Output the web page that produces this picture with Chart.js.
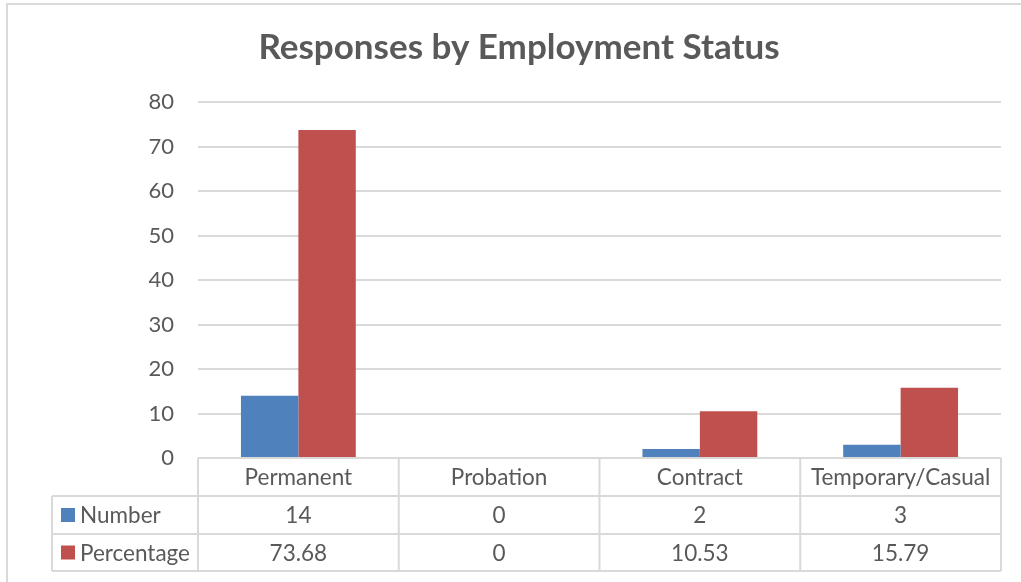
<!DOCTYPE html>
<html lang="en">
<head>
  <meta charset="UTF-8" />
  <title>Responses by Employment Status</title>
  <script src="https://cdn.jsdelivr.net/npm/chart.js"></script>
  <style>
    body { margin: 0; background: #fff; }
    canvas { display: block; }
  </style>
</head>
<body>
  <canvas id="statusChart" width="1021" height="582"></canvas>

  <script>
    const categories = ['Permanent', 'Probation', 'Contract', 'Temporary/Casual'];
    const numberValues = [14, 0, 2, 3];
    const percentValues = [73.68, 0, 10.53, 15.79];
    const seriesNames = ['Number', 'Percentage'];
    const seriesColors = ['#4F81BD', '#C0504D'];

    const textColor = '#595959';
    const lineColor = '#d9d9d9';
    const fontFamily = 'Lato, "Noto Sans", sans-serif';

    // white background, outer frame and title
    const frame = {
      id: 'frame',
      beforeDraw(chart) {
        const ctx = chart.ctx;
        ctx.save();
        ctx.fillStyle = '#fff';
        ctx.fillRect(0, 0, chart.width, chart.height);
        ctx.strokeStyle = lineColor;
        ctx.lineWidth = 2;
        ctx.strokeRect(7, 4, chart.width + 20, chart.height + 20);
        ctx.fillStyle = textColor;
        ctx.font = 'bold 35px ' + fontFamily;
        ctx.textAlign = 'center';
        ctx.textBaseline = 'middle';
        ctx.fillText('Responses by Employment Status', 519, 48);
        ctx.restore();
      }
    };

    // data table under the plot: category row plus one row per series
    const dataTable = {
      id: 'dataTable',
      afterDraw(chart) {
        const { ctx, chartArea: ca } = chart;
        const rows = [ca.bottom, 496, 534, 571];
        const tableLeft = 52;
        const colW = (ca.right - ca.left) / categories.length;

        ctx.save();
        ctx.strokeStyle = lineColor;
        ctx.lineWidth = 2;
        ctx.beginPath();
        ctx.moveTo(ca.left, rows[0]);
        ctx.lineTo(ca.right, rows[0]);
        for (let r = 1; r < rows.length; r++) {
          ctx.moveTo(tableLeft, rows[r]);
          ctx.lineTo(ca.right, rows[r]);
        }
        ctx.moveTo(tableLeft, rows[1]);
        ctx.lineTo(tableLeft, rows[3]);
        for (let i = 0; i <= categories.length; i++) {
          const xb = ca.left + i * colW;
          ctx.moveTo(xb, rows[0]);
          ctx.lineTo(xb, rows[3]);
        }
        ctx.stroke();

        ctx.fillStyle = textColor;
        ctx.font = '22.5px ' + fontFamily;
        ctx.textBaseline = 'middle';
        ctx.textAlign = 'center';

        categories.forEach((c, i) => {
          ctx.fillText(c, ca.left + (i + 0.5) * colW, (rows[0] + rows[1]) / 2 + 1);
        });

        const series = [numberValues, percentValues];
        series.forEach((vals, s) => {
          const cy = (rows[s + 1] + rows[s + 2]) / 2 + 1;
          vals.forEach((v, i) => {
            ctx.fillText(String(v), ca.left + (i + 0.5) * colW, cy);
          });
          ctx.fillStyle = seriesColors[s];
          ctx.fillRect(61, cy - 8, 14, 14);
          ctx.fillStyle = textColor;
          ctx.textAlign = 'left';
          ctx.fillText(seriesNames[s], 80, cy);
          ctx.textAlign = 'center';
        });
        ctx.restore();
      }
    };

    new Chart(document.getElementById('statusChart'), {
      type: 'bar',
      data: {
        labels: categories,
        datasets: [
          { label: seriesNames[0], data: numberValues, backgroundColor: seriesColors[0] },
          { label: seriesNames[1], data: percentValues, backgroundColor: seriesColors[1] }
        ]
      },
      options: {
        responsive: false,
        animation: false,
        devicePixelRatio: 1,
        layout: { padding: { left: 0, right: 20, top: 102, bottom: 124 } },
        datasets: { bar: { categoryPercentage: 0.572, barPercentage: 1 } },
        plugins: {
          legend: { display: false },
          tooltip: { enabled: false },
          title: { display: false }
        },
        scales: {
          x: { display: false },
          y: {
            min: 0,
            max: 80,
            ticks: {
              stepSize: 10,
              padding: 24,
              color: textColor,
              font: { family: fontFamily, size: 22 }
            },
            grid: { color: lineColor, lineWidth: 2, drawTicks: false },
            border: { display: false },
            afterFit(scale) { scale.width = 198; }
          }
        }
      },
      plugins: [frame, dataTable]
    });
  </script>
</body>
</html>
